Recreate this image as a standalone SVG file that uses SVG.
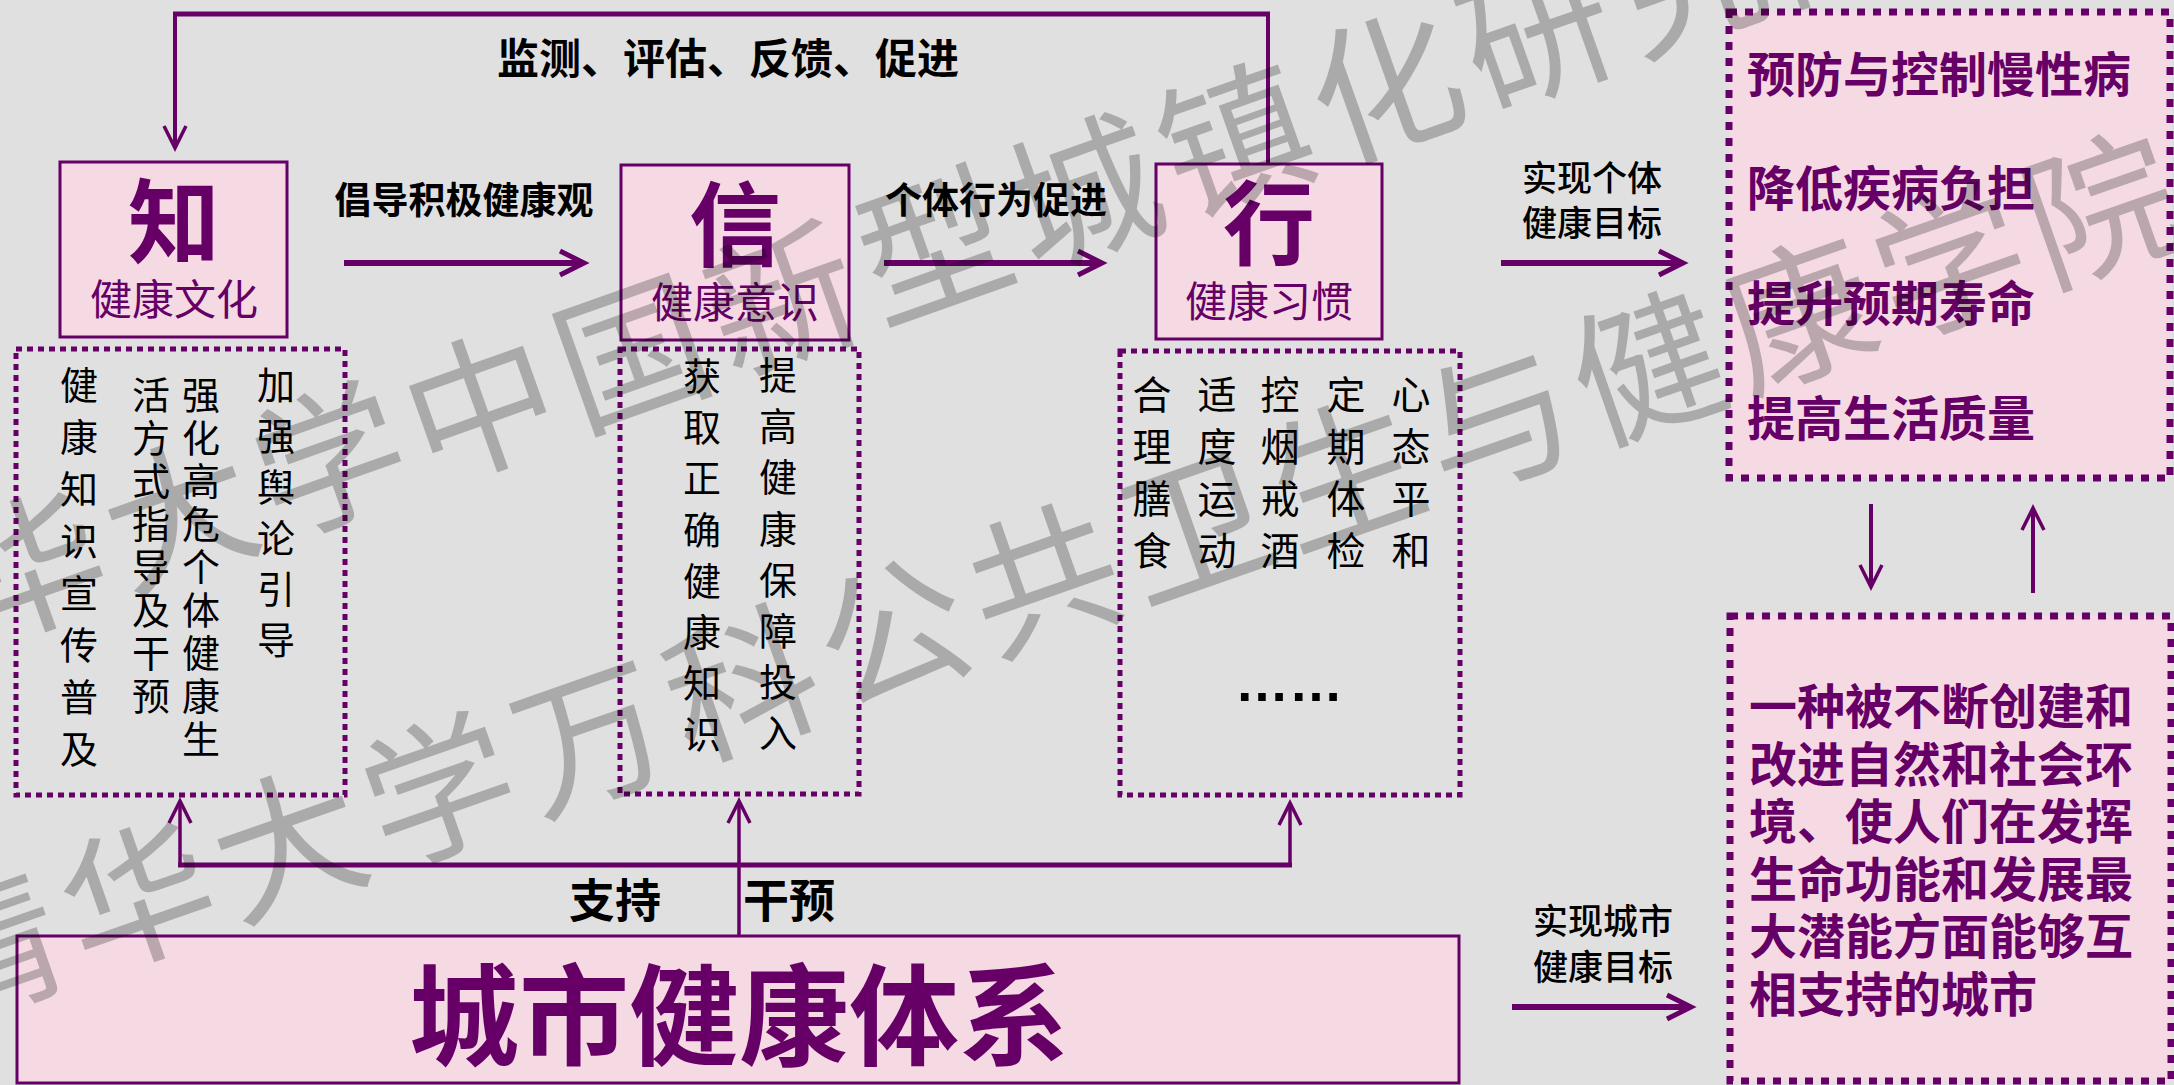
<svg xmlns="http://www.w3.org/2000/svg" width="2174" height="1085" viewBox="0 0 2174 1085">
<defs>
<style>
.bg{fill:#E0E0E0}
.box{fill:#F5DAE4;stroke:#660066;stroke-width:3}
.dot{fill:none;stroke:#660066;stroke-width:5;stroke-dasharray:6 5}
.dotR{fill:#F5DAE4;stroke:#660066;stroke-width:7;stroke-dasharray:8 8}
.cjk{font-family:"Noto Sans CJK SC","Liberation Sans",sans-serif}
.big{font-size:92px;font-weight:700;fill:#660066;text-anchor:middle}
.sub{font-size:42px;fill:#660066;text-anchor:middle}
.lbl{font-size:37px;font-weight:700;fill:#000;text-anchor:middle}
.col{font-size:38px;fill:#000;text-anchor:middle}
.goal{font-size:48px;font-weight:700;fill:#660066}
.small{font-size:35px;font-weight:500;fill:#000;text-anchor:middle}
.ln{stroke:#660066;fill:none}
.wm{font-size:150px;fill:#000;fill-opacity:0.24;letter-spacing:10px}
</style>
<marker id="ahB" markerUnits="userSpaceOnUse" viewBox="-30 -16 40 32" markerWidth="40" markerHeight="32" refX="0" refY="0" orient="auto" overflow="visible">
<path d="M-22,-12 L2,0 L-22,12" fill="none" stroke="#660066" stroke-width="5"/>
</marker>
<marker id="ahS" markerUnits="userSpaceOnUse" viewBox="-30 -16 40 32" markerWidth="40" markerHeight="32" refX="0" refY="0" orient="auto" overflow="visible">
<path d="M-21,-11 L1,0 L-21,11" fill="none" stroke="#660066" stroke-width="3.5"/>
</marker>
</defs>
<rect class="bg" x="0" y="0" width="2174" height="1085"/>

<g id="connectors">
<line class="ln" x1="1268" y1="164" x2="1268" y2="12" stroke-width="4"/>
<line class="ln" x1="173" y1="14" x2="1270" y2="14" stroke-width="5"/>
<line class="ln" x1="175" y1="12" x2="175" y2="147" stroke-width="4" marker-end="url(#ahS)"/>
<line class="ln" x1="344" y1="263" x2="582" y2="263" stroke-width="6" marker-end="url(#ahB)"/>
<line class="ln" x1="884" y1="263" x2="1100" y2="263" stroke-width="6" marker-end="url(#ahB)"/>
<line class="ln" x1="1501" y1="263" x2="1681" y2="263" stroke-width="6" marker-end="url(#ahB)"/>
<line class="ln" x1="1512" y1="1007" x2="1689" y2="1007" stroke-width="6" marker-end="url(#ahB)"/>
<line class="ln" x1="1871" y1="504" x2="1871" y2="586" stroke-width="4" marker-end="url(#ahS)"/>
<line class="ln" x1="2033" y1="593" x2="2033" y2="509" stroke-width="4" marker-end="url(#ahS)"/>
<line class="ln" x1="178" y1="865" x2="1292" y2="865" stroke-width="5"/>
<line class="ln" x1="180" y1="867" x2="180" y2="802" stroke-width="3.5" marker-end="url(#ahS)"/>
<line class="ln" x1="1290" y1="867" x2="1290" y2="804" stroke-width="3.5" marker-end="url(#ahS)"/>
<line class="ln" x1="739" y1="937" x2="739" y2="802" stroke-width="3.5" marker-end="url(#ahS)"/>
<text class="cjk lbl" x="728" y="74" style="font-size:42px">监测、评估、反馈、促进</text>
<text class="cjk lbl" x="464" y="214">倡导积极健康观</text>
<text class="cjk lbl" x="996" y="214">个体行为促进</text>
<text class="cjk small" x="1592" y="191">实现个体</text>
<text class="cjk small" x="1592" y="236">健康目标</text>
<text class="cjk small" x="1603" y="934">实现城市</text>
<text class="cjk small" x="1603" y="980">健康目标</text>
<text class="cjk lbl" x="615" y="917" style="font-size:46px">支持</text>
<text class="cjk lbl" x="789" y="917" style="font-size:46px">干预</text>
</g>

<g id="node-zhi">
<rect class="box" x="60" y="162" width="227" height="175"/>
<text class="cjk big" x="174" y="256">知</text>
<text class="cjk sub" x="174" y="315">健康文化</text>
</g>
<g id="node-xin">
<rect class="box" x="621" y="165" width="228" height="175"/>
<text class="cjk big" x="735" y="259">信</text>
<text class="cjk sub" x="735" y="318">健康意识</text>
</g>
<g id="node-xing">
<rect class="box" x="1156" y="164" width="226" height="175"/>
<text class="cjk big" x="1269" y="258">行</text>
<text class="cjk sub" x="1269" y="317">健康习惯</text>
</g>

<g id="node-zhi-list">
<rect class="dot" x="16" y="349" width="329" height="446"/>
<text class="cjk col" x="79 79 79 79 79 79 79 79" y="399 451 503 555 607 659 711 763">健康知识宣传普及</text>
<text class="cjk col" x="151 151 151 151 151 151 151 151" y="409 452 495 538 581 624 667 710">活方式指导及干预</text>
<text class="cjk col" x="201 201 201 201 201 201 201 201 201" y="409 452 495 538 581 624 667 710 753">强化高危个体健康生</text>
<text class="cjk col" x="276 276 276 276 276 276" y="399 450 501 552 603 654">加强舆论引导</text>
</g>

<g id="node-xin-list">
<rect class="dot" x="620" y="349" width="239" height="445"/>
<text class="cjk col" x="702 702 702 702 702 702 702 702" y="390 441 492 544 595 646 697 748">获取正确健康知识</text>
<text class="cjk col" x="778 778 778 778 778 778 778 778" y="389 440 491 543 594 645 696 747">提高健康保障投入</text>
</g>

<g id="node-xing-list">
<rect class="dot" x="1120" y="351" width="340" height="444"/>
<text class="cjk col" style="font-size:39px" x="1152 1152 1152 1152" y="409 461 513 565">合理膳食</text>
<text class="cjk col" style="font-size:39px" x="1217 1217 1217 1217" y="409 461 513 565">适度运动</text>
<text class="cjk col" style="font-size:39px" x="1280 1280 1280 1280" y="409 461 513 565">控烟戒酒</text>
<text class="cjk col" style="font-size:39px" x="1346 1346 1346 1346" y="409 461 513 565">定期体检</text>
<text class="cjk col" style="font-size:39px" x="1411 1411 1411 1411" y="409 461 513 565">心态平和</text>
<text x="1289" y="701" style="font-family:'Liberation Sans',sans-serif;font-size:54px;font-weight:700;text-anchor:middle;fill:#000">……</text>
</g>

<g id="node-city">
<rect class="box" x="17" y="936" width="1442" height="147"/>
<text class="cjk big" x="739" y="1057" style="font-size:110px">城市健康体系</text>
</g>

<g id="node-goals">
<rect class="dotR" x="1729" y="12" width="441" height="466"/>
<text class="cjk goal" x="1747" y="92">预防与控制慢性病</text>
<text class="cjk goal" x="1747" y="206">降低疾病负担</text>
<text class="cjk goal" x="1747" y="321">提升预期寿命</text>
<text class="cjk goal" x="1747" y="436">提高生活质量</text>
</g>

<g id="node-healthy-city">
<rect class="dotR" x="1730" y="616" width="441" height="465"/>
<text class="cjk goal" x="1749" y="724">一种被不断创建和</text>
<text class="cjk goal" x="1749" y="782">改进自然和社会环</text>
<text class="cjk goal" x="1749" y="839">境、使人们在发挥</text>
<text class="cjk goal" x="1749" y="897">生命功能和发展最</text>
<text class="cjk goal" x="1749" y="954">大潜能方面能够互</text>
<text class="cjk goal" x="1749" y="1012">相支持的城市</text>
</g>

<g id="watermark">
<text class="cjk wm" transform="translate(-123,619) rotate(-19.5)" x="-75" y="57">清华大学中国新型城镇化研究院</text>
<text class="cjk wm" transform="translate(-14,948) rotate(-19.3)" x="-75" y="57">清华大学万科公共卫生与健康学院</text>
</g>
</svg>
